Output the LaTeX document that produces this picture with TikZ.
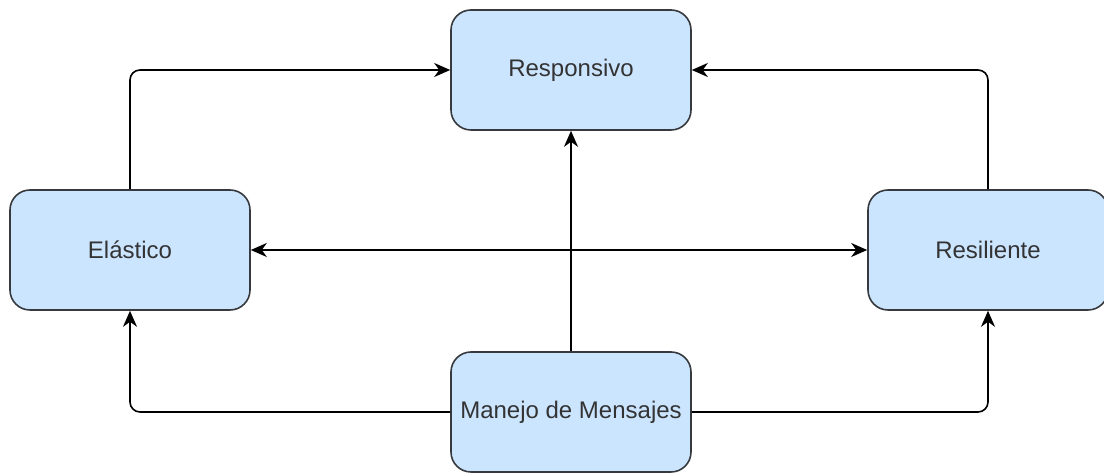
\documentclass[tikz,border=0pt]{standalone}
\usepackage{fontspec}
\setmainfont{Liberation Sans}
\usepackage{xcolor}
\usepackage{tikz}
\usetikzlibrary{arrows.meta}
\definecolor{boxfill}{HTML}{CCE5FF}
\definecolor{boxline}{HTML}{36393D}
\definecolor{boxtext}{HTML}{333333}

\begin{document}
\begin{tikzpicture}[x=0.5pt,y=0.5pt]
\tikzstyle{block}=[draw=boxline,fill=boxfill,line width=0.8pt,rounded corners=10pt,minimum width=120pt,minimum height=60pt,text=boxtext,font=\fontsize{12}{14}\selectfont,inner sep=0pt]
\tikzstyle{link}=[draw=black,line width=0.8pt,rounded corners=5pt,-{Stealth[length=8pt,width=7pt,inset=2.5pt]}]
\useasboundingbox (0,0) rectangle (1104,-474);
\node [block] (responsivo) at (571,-70) {Responsivo};
\node [block] (elastico) at (130,-250) {Elástico};
\node [block] (resiliente) at (988,-250) {Resiliente};
\node [block] (manejo) at (571,-412) {Manejo de Mensajes};
\draw [link] (elastico.north) |- (responsivo.west);
\draw [link] (resiliente.north) |- (responsivo.east);
\draw [link] (manejo.north) -- (responsivo.south);
\draw [link,{Stealth[length=8pt,width=7pt,inset=2.5pt]}-{Stealth[length=8pt,width=7pt,inset=2.5pt]}] (elastico.east) -- (resiliente.west);
\draw [link] (manejo.west) -| (elastico.south);
\draw [link] (manejo.east) -| (resiliente.south);
\end{tikzpicture}
\end{document}
